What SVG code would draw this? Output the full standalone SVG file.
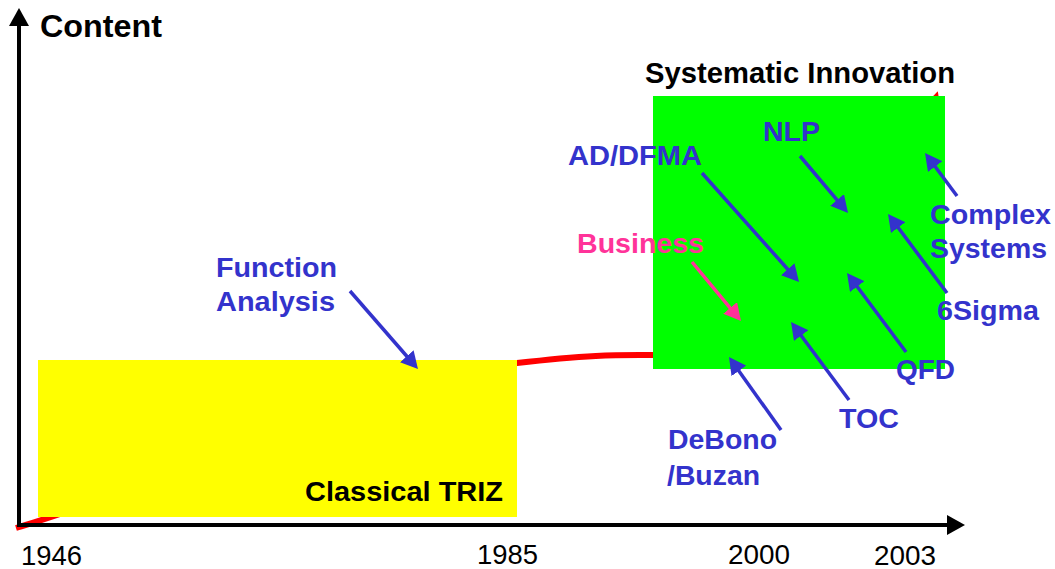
<svg xmlns="http://www.w3.org/2000/svg" width="1055" height="569" viewBox="0 0 1055 569">
<defs>
<style>
.lbl{font-family:"Liberation Sans",Arial,sans-serif;font-weight:bold;font-size:28px;fill:#3333CC}
.pink{fill:#FF3399}
.blk{font-family:"Liberation Sans",Arial,sans-serif;font-weight:bold;fill:#000}
.yr{font-family:"Liberation Sans",Arial,sans-serif;font-size:27px;fill:#000}
.arr{stroke:#3333CC;stroke-width:3.5;fill:none;marker-end:url(#hb)}
.arrp{stroke:#FF3399;stroke-width:3.5;fill:none;marker-end:url(#hp)}
.axis{stroke:#000;stroke-width:4;fill:none}
</style>
<marker id="hb" markerUnits="userSpaceOnUse" markerWidth="17" markerHeight="18" viewBox="0 0 17 18" refX="7" refY="9" orient="auto"><path d="M0,0 L17,9 L0,18 z" fill="#3333CC"/></marker>
<marker id="hp" markerUnits="userSpaceOnUse" markerWidth="17" markerHeight="18" viewBox="0 0 17 18" refX="7" refY="9" orient="auto"><path d="M0,0 L17,9 L0,18 z" fill="#FF3399"/></marker>
<marker id="hr" markerUnits="userSpaceOnUse" markerWidth="16" markerHeight="16" viewBox="0 0 16 16" refX="10" refY="8" orient="auto"><path d="M0,0 L16,8 L0,16 z" fill="#FF0000"/></marker>
<marker id="hk" markerUnits="userSpaceOnUse" markerWidth="18" markerHeight="20" viewBox="0 0 18 20" refX="4" refY="10" orient="auto"><path d="M0,0 L18,10 L0,20 z" fill="#000"/></marker>
</defs>
<rect width="1055" height="569" fill="#fff"/>

<g id="trend">
<path d="M16,528 C150,488 440,372 517,363 C594,354 620,355 653,355 C850,355 915,165 936,97" stroke="#FF0000" stroke-width="6" fill="none" marker-end="url(#hr)"/>
</g>

<g id="axes">
<path class="axis" d="M19,525 L19,22" marker-end="url(#hk)"/>
<path class="axis" d="M17,525 L951,525" marker-end="url(#hk)"/>
</g>

<g id="classical-triz">
<rect x="38" y="360" width="479" height="157" fill="#FFFF00"/>
<text class="blk" x="305" y="501" font-size="27" textLength="198" lengthAdjust="spacingAndGlyphs">Classical TRIZ</text>
</g>

<g id="systematic-innovation">
<rect x="653" y="96" width="292" height="273" fill="#00FF00"/>
<text class="blk" x="645" y="83" font-size="29" textLength="310" lengthAdjust="spacingAndGlyphs">Systematic Innovation</text>
</g>

<g id="content-label"><text class="blk" x="40" y="37" font-size="31" textLength="122" lengthAdjust="spacingAndGlyphs">Content</text></g>

<g id="years">
<text class="yr" x="21" y="565" textLength="61" lengthAdjust="spacingAndGlyphs">1946</text>
<text class="yr" x="477" y="564" textLength="61" lengthAdjust="spacingAndGlyphs">1985</text>
<text class="yr" x="728" y="564" textLength="62" lengthAdjust="spacingAndGlyphs">2000</text>
<text class="yr" x="874" y="565" textLength="62" lengthAdjust="spacingAndGlyphs">2003</text>
</g>

<g id="connectors">
<line class="arr" x1="350" y1="291" x2="411.4" y2="361.5"/>
<line class="arr" x1="702" y1="173" x2="792.4" y2="274.5"/>
<line class="arr" x1="800" y1="156" x2="841.6" y2="205.3"/>
<line class="arrp" x1="692" y1="262" x2="734.6" y2="313.3"/>
<line class="arr" x1="957" y1="196" x2="931" y2="161"/>
<line class="arr" x1="947" y1="293" x2="894" y2="222"/>
<line class="arr" x1="906" y1="352" x2="853" y2="281"/>
<line class="arr" x1="849" y1="400" x2="797" y2="330"/>
<line class="arr" x1="781" y1="430" x2="734.8" y2="365.2"/>
</g>

<g id="function-analysis"><text class="lbl" x="216" y="277" textLength="121" lengthAdjust="spacingAndGlyphs">Function</text><text class="lbl" x="216" y="311" textLength="119" lengthAdjust="spacingAndGlyphs">Analysis</text></g>
<g id="ad-dfma"><text class="lbl" x="568" y="165" textLength="134" lengthAdjust="spacingAndGlyphs">AD/DFMA</text></g>
<g id="nlp"><text class="lbl" x="763" y="141" textLength="57" lengthAdjust="spacingAndGlyphs">NLP</text></g>
<g id="business"><text class="lbl pink" x="577" y="253" textLength="127" lengthAdjust="spacingAndGlyphs">Business</text></g>
<g id="complex-systems"><text class="lbl" x="930" y="224" textLength="121" lengthAdjust="spacingAndGlyphs">Complex</text><text class="lbl" x="930" y="258" textLength="117" lengthAdjust="spacingAndGlyphs">Systems</text></g>
<g id="sigma"><text class="lbl" x="937" y="320" textLength="102" lengthAdjust="spacingAndGlyphs">6Sigma</text></g>
<g id="qfd"><text class="lbl" x="896" y="379" textLength="59" lengthAdjust="spacingAndGlyphs">QFD</text></g>
<g id="toc"><text class="lbl" x="839" y="428" textLength="60" lengthAdjust="spacingAndGlyphs">TOC</text></g>
<g id="debono"><text class="lbl" x="668" y="449" textLength="109" lengthAdjust="spacingAndGlyphs">DeBono</text><text class="lbl" x="667" y="485" textLength="93" lengthAdjust="spacingAndGlyphs">/Buzan</text></g>
</svg>
